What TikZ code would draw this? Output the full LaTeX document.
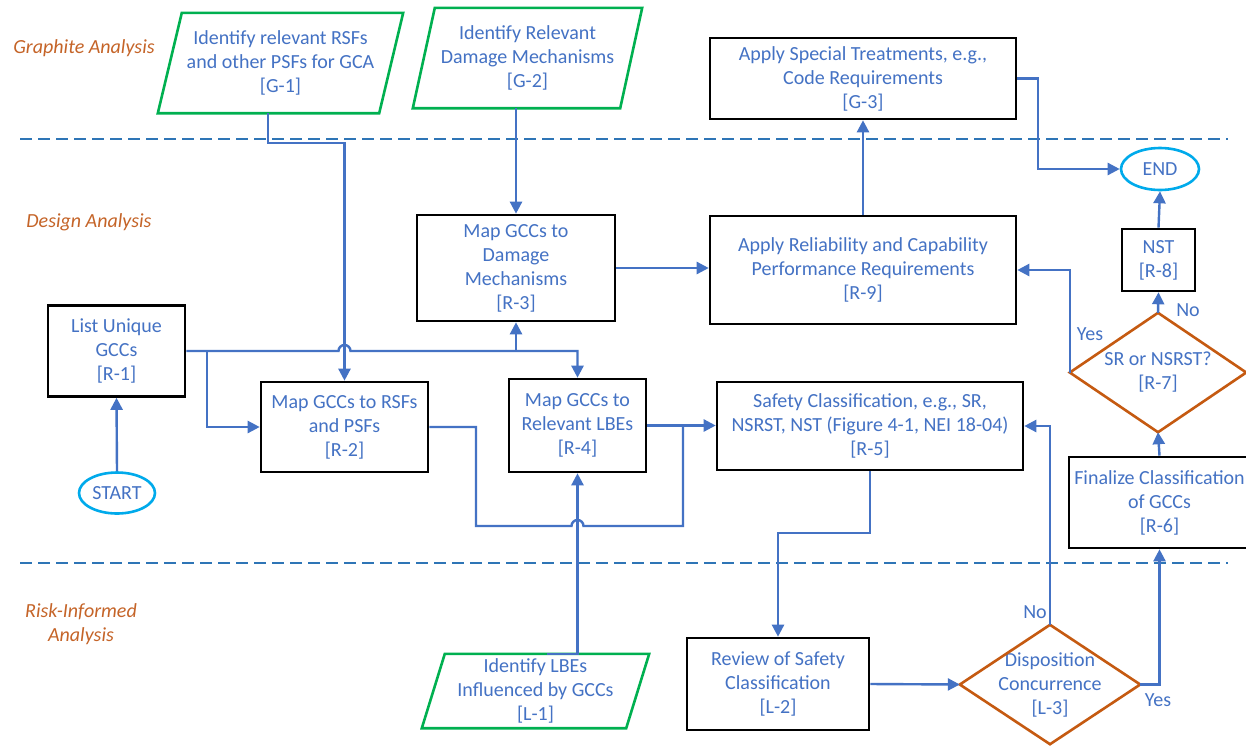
\documentclass[tikz,border=0pt]{standalone}
\usepackage{fontspec}
\setmainfont{Carlito}
\usetikzlibrary{arrows.meta,calc,shapes.geometric}
\definecolor{tblue}{RGB}{68,114,196}
\definecolor{dblue}{RGB}{46,117,182}
\definecolor{tgreen}{RGB}{0,176,80}
\definecolor{torange}{RGB}{197,90,17}
\definecolor{lorange}{RGB}{197,100,40}
\definecolor{tcyan}{RGB}{0,170,235}
\begin{document}
\begin{tikzpicture}[x=1pt,y=-1pt,
  every node/.style={font=\fontsize{20}{24}\selectfont, text=tblue, align=center, inner sep=0pt},
  box/.style={draw=black, line width=2.6pt},
  holder/.style={},
  paraline/.style={draw=tgreen, line width=2.6pt, line join=miter},
  dialine/.style={draw=torange, line width=2.6pt},
  ell/.style={ellipse, draw=tcyan, line width=2.6pt},
  conn/.style={draw=tblue, line width=2.4pt},
  arr/.style={conn, -{Triangle[length=12pt,width=12pt]}},
  lbl/.style={text=lorange, font=\fontsize{20}{24}\selectfont\itshape},
  dashline/.style={draw=dblue, line width=2.6pt, dash pattern=on 12pt off 6pt},
  ]
\clip (0,0) rectangle (1246,745);
\fill[white] (0,0) rectangle (1246,745);

% lane labels and separators
\node[lbl] (la) at (84,48) {Graphite Analysis};
\node[lbl] (lb) at (89,222) {Design Analysis};
\node[lbl] (lc) at (81,624) {Risk-Informed\\Analysis};
\draw[dashline] (20,139) -- (1228,139);
\draw[dashline] (20,563) -- (1228,563);

% rectangles
\node[box, minimum width=137pt, minimum height=91pt] (r1) at (116.5,351) {List Unique\\GCCs\\{}[R-1]};
\node[box, minimum width=167pt, minimum height=90pt] (r2) at (344.5,427) {Map GCCs to RSFs\\and PSFs\\{}[R-2]};
\node[box, minimum width=198pt, minimum height=106pt] (r3) at (516,268) {Map GCCs to\\Damage\\Mechanisms\\{}[R-3]};
\node[box, minimum width=137pt, minimum height=93pt] (r4) at (577.5,425.5) {Map GCCs to\\Relevant LBEs\\{}[R-4]};
\node[box, minimum width=306pt, minimum height=88pt] (r5) at (870,426) {Safety Classification, e.g., SR,\\NSRST, NST (Figure 4-1, NEI 18-04)\\{}[R-5]};
\node[box, minimum width=181pt, minimum height=91pt] (r6) at (1159.5,502.5) {Finalize Classification\\of GCCs\\{}[R-6]};
\node[box, minimum width=73pt, minimum height=62pt] (r8) at (1158.5,260) {NST\\{}[R-8]};
\node[box, minimum width=306pt, minimum height=108pt] (r9) at (863,270) {Apply Reliability and Capability\\Performance Requirements\\{}[R-9]};
\node[box, minimum width=306pt, minimum height=81pt] (g3) at (863,78.5) {Apply Special Treatments, e.g.,\\Code Requirements\\{}[G-3]};
\node[box, minimum width=182pt, minimum height=92pt] (l2) at (778,684) {Review of Safety\\Classification\\{}[L-2]};

% parallelograms
\node[holder, minimum width=245pt, minimum height=100pt] (g1) at (280.5,63) {Identify relevant RSFs\\and other PSFs for GCA\\{}[G-1]};
\draw[paraline] (g1.south west) -- ($(g1.north west)+(24,0)$) -- (g1.north east) -- ($(g1.south east)+(-24,0)$) -- cycle;
\node[holder, minimum width=229pt, minimum height=100pt] (g2) at (527.5,58) {Identify Relevant\\Damage Mechanisms\\{}[G-2]};
\draw[paraline] (g2.south west) -- ($(g2.north west)+(22,0)$) -- (g2.north east) -- ($(g2.south east)+(-22,0)$) -- cycle;
\node[holder, minimum width=227pt, minimum height=74pt] (l1) at (535.5,691) {Identify LBEs\\Influenced by GCCs\\{}[L-1]};
\draw[paraline] (l1.south west) -- ($(l1.north west)+(23,0)$) -- (l1.north east) -- ($(l1.south east)+(-23,0)$) -- cycle;

% diamonds
\node[holder, minimum width=176pt, minimum height=119pt] (r7) at (1158,372.5) {SR or NSRST?\\{}[R-7]};
\draw[dialine] (r7.north) -- (r7.east) -- (r7.south) -- (r7.west) -- cycle;
\node[holder, minimum width=180pt, minimum height=119pt] (l3) at (1050,684.5) {Disposition\\Concurrence\\{}[L-3]};
\draw[dialine] (l3.north) -- (l3.east) -- (l3.south) -- (l3.west) -- cycle;

% terminals
\node[ell, minimum width=76pt, minimum height=41pt] (st) at (117,493) {START};
\node[ell, minimum width=78pt, minimum height=42pt] (en) at (1160,169) {END};

% helper coordinates
\coordinate (k1) at (268,143);
\coordinate (k2) at (1038,0);
\coordinate (k3) at (0,533);
\coordinate (k4) at (0,631);
\coordinate (k5) at (476,0);
\coordinate (k6) at (683,0);
\coordinate (j1) at (207,351);
\coordinate (hA) at (338.5,351);
\coordinate (hB) at (571.5,526);

% connectors
\draw[arr] (st.north) -- (r1.south);
\draw[arr] (r1.east) -- (hA) arc[start angle=180,end angle=0,radius=6pt] -| (r4.north);
\draw[arr] (j1) |- (r2.west);
\draw[arr] (r3.south |- r1.east) -- (r3.south);
\draw[arr] ($(g1.south)+(-12.5,0)$) -- (k1) -| (r2.north);
\draw[arr] (r3.north |- g2.south) -- (r3.north);
\draw[arr] (r3.east) -- (r3.east -| r9.west);
\draw[arr] (r9.north) -- (g3.south);
\draw[arr] (g3.east) -| (k2 |- en.west) -- (en.west);
\draw[arr] (r8.north) -- (en.south);
\draw[arr] (r7.north) -- (r8.south);
\draw[arr] (r7.west) |- (r9.east);
\draw[arr] (r6.north) -- (r7.south);
\draw[arr] (l3.east) -| (r6.south);
\draw[arr] (l3.north) |- (r5.east);
\draw[arr] (l2.east) -- (l3.west);
\draw[arr] (r5.south) -- (r5.south |- k3) -| (l2.north);
\draw[arr] ($(l1.north)+(11.5,0)$) -- ($(l1.north)+(11.5,0)$ |- k4) -| (r4.south);
\draw[arr] (r4.east) -- (r4.east -| r5.west);
\draw[conn] (r2.east) -| (k5 |- hB) -- (hB) arc[start angle=180,end angle=0,radius=6pt] -| (k6 |- r4.east);

% branch labels
\node (no1) at (1188,310) {No};
\node (yes1) at (1090,334) {Yes};
\node (no2) at (1035,612) {No};
\node (yes2) at (1158,700) {Yes};
\end{tikzpicture}
\end{document}
